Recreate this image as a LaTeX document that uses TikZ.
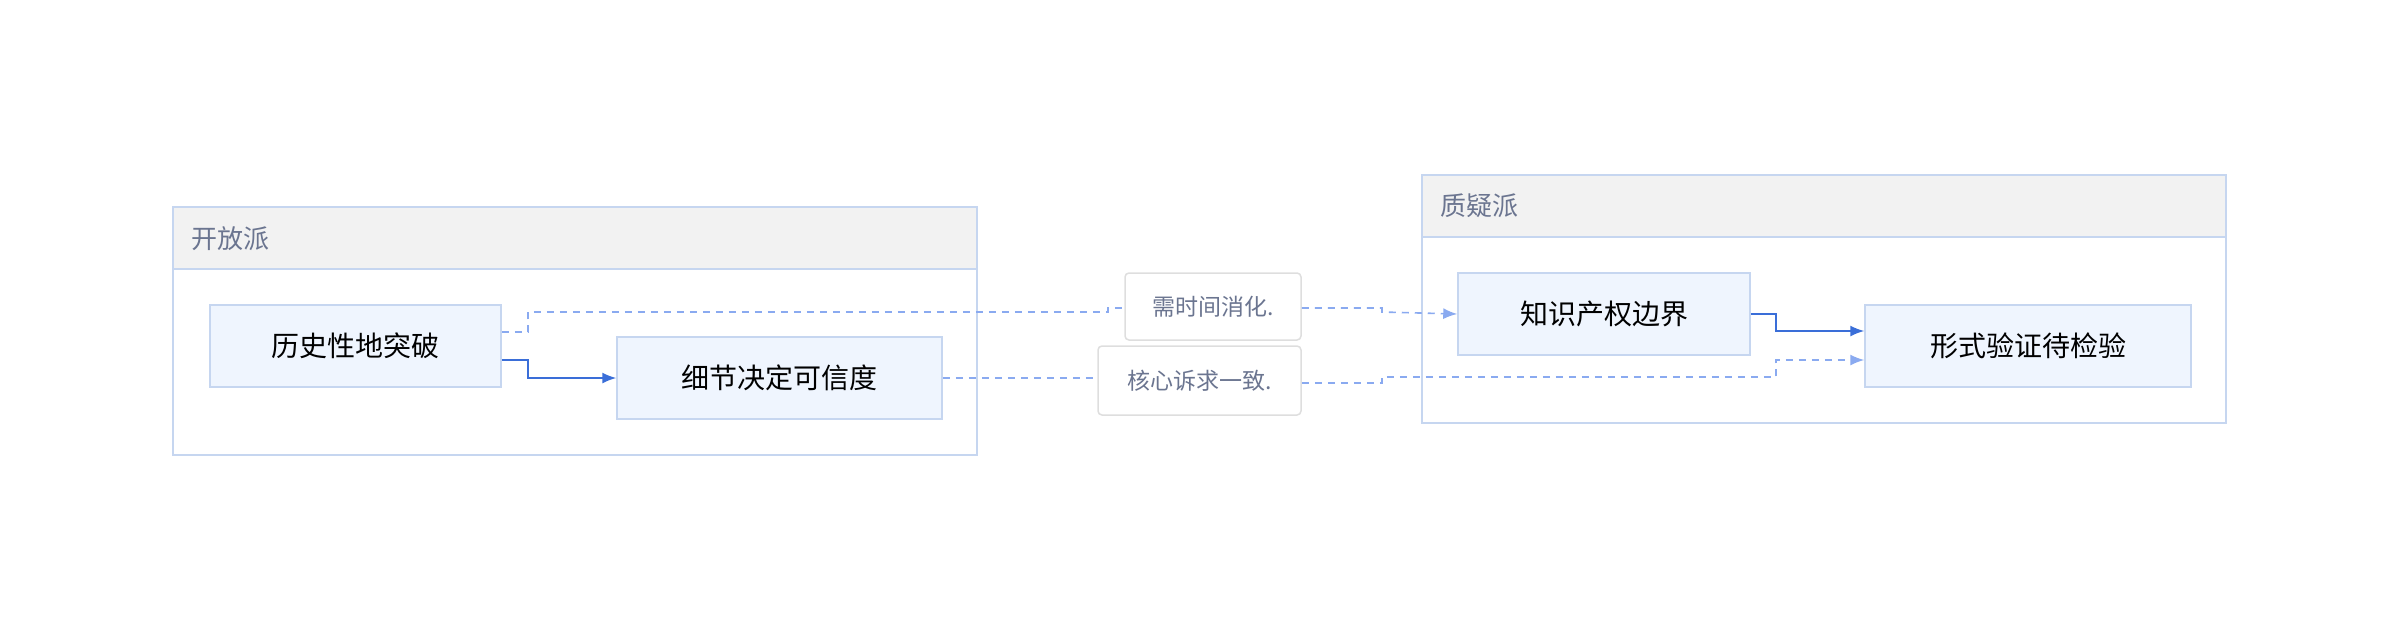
\documentclass[tikz,border=0pt]{standalone}
\usepackage{fontspec}
\setmainfont{Noto Sans CJK SC}
\usetikzlibrary{positioning}
\usetikzlibrary{arrows.meta}
\definecolor{boxfill}{HTML}{EFF5FE}
\definecolor{boxline}{HTML}{C6D6F0}
\definecolor{headfill}{HTML}{F2F2F2}
\definecolor{titlegray}{HTML}{6B7590}
\definecolor{solidblue}{HTML}{3A6ED8}
\definecolor{dashblue}{HTML}{8AAAF0}
\tikzset{
  stepbox/.style={draw=boxline, fill=boxfill, line width=1.5pt, inner sep=0pt, font=\fontsize{28}{32}\selectfont},
  tag/.style={draw=black!13, fill=white, rounded corners=4pt, line width=1.5pt, inner sep=0pt, text=titlegray, font=\fontsize{23}{27}\selectfont},
  title/.style={anchor=west, text=titlegray, font=\fontsize{26}{30}\selectfont},
  flow/.style={solidblue, line width=1.6pt, -{Latex[length=14pt,width=11pt]}},
  hint/.style={dashblue, line width=1.6pt, dash pattern=on 7pt off 6pt}
}
\begin{document}
\begin{tikzpicture}[x=1pt, y=-1pt]
\useasboundingbox (0,0) rectangle (2400,630);

% clusters
\draw[boxline, line width=1.5pt, fill=white] (173,207) rectangle (977,455);
\draw[boxline, line width=1.5pt, fill=headfill] (173,207) rectangle (977,269);
\node[title] (openT) at (188,239) {开放派};

\draw[boxline, line width=1.5pt, fill=white] (1422,175) rectangle (2226,423);
\draw[boxline, line width=1.5pt, fill=headfill] (1422,175) rectangle (2226,237);
\node[title] (doubtT) at (1437,206) {质疑派};

% steps
\node[stepbox, minimum width=291pt, minimum height=82pt] (hist) at (355.5,346) {历史性地突破};
\node[stepbox, minimum width=325pt, minimum height=82pt] (detail) at (779.5,378) {细节决定可信度};
\node[stepbox, minimum width=292pt, minimum height=82pt] (ip) at (1604,314) {知识产权边界};
\node[stepbox, minimum width=326pt, minimum height=82pt] (formal) at (2028,346) {形式验证待检验};

% tags
\node[tag, minimum width=176pt, minimum height=67pt] (digest) at (1213,306.5) {需时间消化.};
\node[tag, minimum width=203pt, minimum height=69pt] (core) at (1199.5,380.5) {核心诉求一致.};

% connectors
\draw[flow] (hist.east |- 0,360) -- (528,360) -- (528,378) -- (detail.west);
\draw[flow] (ip.east) -- (1776,314) -- (1776,331) -- (formal.west |- 0,331);
\draw[hint] (hist.east |- 0,332) -- (528,332) -- (528,312) -- (1108,312) -- (1108,308) -- (digest.west |- 0,308);
\draw[hint, -{Latex[length=14pt,width=11pt]}] (digest.east |- 0,308) -- (1382,308) -- (1382,312) -- (ip.west);
\draw[hint] (detail.east) -- (1090,378) -- (core.west |- 0,378);
\draw[hint, -{Latex[length=14pt,width=11pt]}] (core.east |- 0,383) -- (1382,383) -- (1382,377) -- (1776,377) -- (1776,360) -- (formal.west |- 0,360);
\end{tikzpicture}
\end{document}
